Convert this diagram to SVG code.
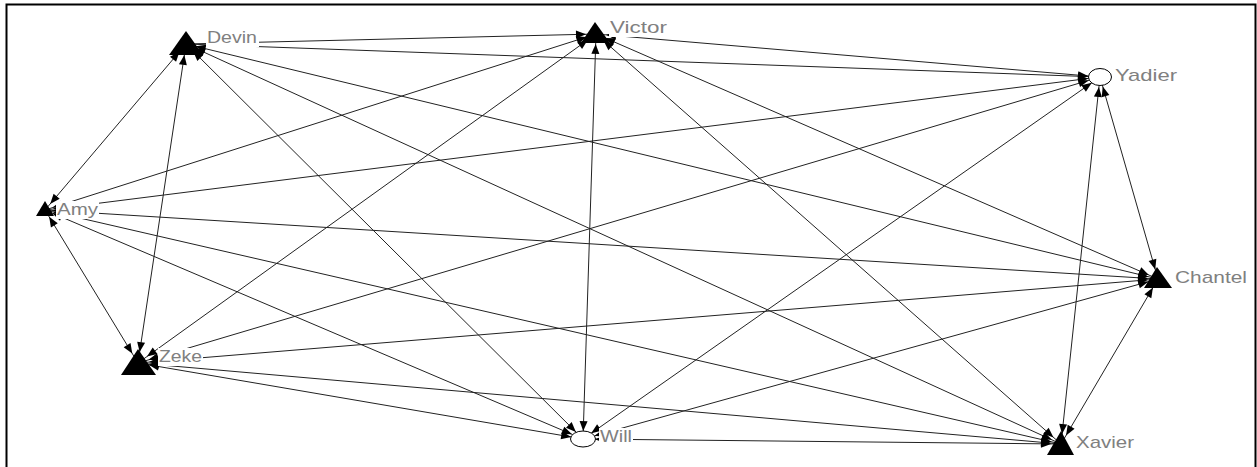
<svg xmlns="http://www.w3.org/2000/svg" width="1257" height="467" viewBox="0 0 1257 467">
  <style>
    .edge { stroke: #222; stroke-width: 1; fill: none; }
    .s8 { marker-start: url(#a8); }   .e8 { marker-end: url(#a8); }
    .s10 { marker-start: url(#a10); } .e10 { marker-end: url(#a10); }
    .s11 { marker-start: url(#a11); } .e11 { marker-end: url(#a11); }
    .s12 { marker-start: url(#a12); } .e12 { marker-end: url(#a12); }
    .tri { fill: #000; }
    .ell { fill: #fff; stroke: #000; stroke-width: 1; }
    .lb { fill: #fff; }
    .lbl { font-family: "Liberation Sans", Arial, sans-serif; font-size: 17px; fill: #808080; }
    .frame { fill: none; stroke: #000; stroke-width: 2; }
  </style>
  <defs>
    <!-- arrowheads; refX pulls the tip back from the node centre -->
    <marker id="a8" markerUnits="userSpaceOnUse" orient="auto-start-reverse" refX="8" refY="0" overflow="visible">
      <path d="M0,0 L-10,-4 L-10,4 Z" fill="#000"/>
    </marker>
    <marker id="a10" markerUnits="userSpaceOnUse" orient="auto-start-reverse" refX="10" refY="0" overflow="visible">
      <path d="M0,0 L-10,-4 L-10,4 Z" fill="#000"/>
    </marker>
    <marker id="a11" markerUnits="userSpaceOnUse" orient="auto-start-reverse" refX="11" refY="0" overflow="visible">
      <path d="M0,0 L-10,-4 L-10,4 Z" fill="#000"/>
    </marker>
    <marker id="a12" markerUnits="userSpaceOnUse" orient="auto-start-reverse" refX="12" refY="0" overflow="visible">
      <path d="M0,0 L-10,-4 L-10,4 Z" fill="#000"/>
    </marker>
  </defs>

  <rect width="1257" height="467" fill="#fff"/>
  <path class="frame" d="M6.5,467 V4.5 H1255.5 V467"/>

  <g id="connectors">
    <!-- Devin (186,44) -->
    <line class="edge e10" x1="186" y1="44" x2="596" y2="34"/>
    <line class="edge e12" x1="186" y1="44" x2="1100" y2="77"/>
    <line class="edge s10 e8" x1="186" y1="44" x2="45" y2="210"/>
    <line class="edge s11 e11" x1="186" y1="44" x2="138" y2="363"/>
    <line class="edge s10 e10" x1="186" y1="44" x2="583" y2="439"/>
    <line class="edge s10 e10" x1="186" y1="44" x2="1061" y2="444"/>
    <line class="edge s10 e10" x1="186" y1="44" x2="1158" y2="279"/>
    <!-- Victor (596,34) -->
    <line class="edge s10 e12" x1="596" y1="34" x2="1100" y2="77"/>
    <line class="edge s10 e8" x1="596" y1="34" x2="45" y2="210"/>
    <line class="edge s10 e11" x1="596" y1="34" x2="138" y2="363"/>
    <line class="edge s10 e8" x1="596" y1="34" x2="583" y2="439"/>
    <line class="edge s10 e10" x1="596" y1="34" x2="1061" y2="444"/>
    <line class="edge s10 e10" x1="596" y1="34" x2="1158" y2="279"/>
    <!-- Yadier (1100,77) -->
    <line class="edge s12 e8" x1="1100" y1="77" x2="45" y2="210"/>
    <line class="edge s12 e11" x1="1100" y1="77" x2="138" y2="363"/>
    <line class="edge s10 e10" x1="1100" y1="77" x2="583" y2="439"/>
    <line class="edge s10 e10" x1="1100" y1="77" x2="1061" y2="444"/>
    <line class="edge s10 e10" x1="1100" y1="77" x2="1158" y2="279"/>
    <!-- Amy (45,210) -->
    <line class="edge s8 e10" x1="45" y1="210" x2="1158" y2="279"/>
    <line class="edge s8 e11" x1="45" y1="210" x2="138" y2="363"/>
    <line class="edge s8 e12" x1="45" y1="210" x2="583" y2="439"/>
    <line class="edge s8 e10" x1="45" y1="210" x2="1061" y2="444"/>
    <!-- Zeke (138,363) -->
    <line class="edge s11 e10" x1="138" y1="363" x2="1158" y2="279"/>
    <line class="edge s11 e12" x1="138" y1="363" x2="583" y2="439"/>
    <line class="edge s11 e10" x1="138" y1="363" x2="1061" y2="444"/>
    <!-- Will (583,439) -->
    <line class="edge s12 e10" x1="583" y1="439" x2="1158" y2="279"/>
    <line class="edge s12 e10" x1="583" y1="439" x2="1061" y2="444"/>
    <!-- Xavier (1061,444) -->
    <line class="edge s10 e10" x1="1061" y1="444" x2="1158" y2="279"/>
  </g>

  <g id="node-devin">
    <polygon class="tri" points="186,31 169,55 203,55"/>
    <rect class="lb" x="206" y="29" width="53" height="18"/>
    <text class="lbl" x="207" y="43" textLength="50" lengthAdjust="spacingAndGlyphs">Devin</text>
  </g>
  <g id="node-victor">
    <polygon class="tri" points="595,22 581,43 610,43"/>
    <rect class="lb" x="609" y="19" width="59" height="18"/>
    <text class="lbl" x="610" y="33" textLength="57" lengthAdjust="spacingAndGlyphs">Victor</text>
  </g>
  <g id="node-yadier">
    <ellipse class="ell" cx="1100" cy="77" rx="11.5" ry="8.5"/>
    <rect class="lb" x="1114" y="67" width="64" height="18"/>
    <text class="lbl" x="1115" y="81" textLength="62" lengthAdjust="spacingAndGlyphs">Yadier</text>
  </g>
  <g id="node-amy">
    <polygon class="tri" points="45,201 36,216 54,216"/>
    <rect class="lb" x="56" y="201" width="43" height="18"/>
    <text class="lbl" x="57" y="215" textLength="41" lengthAdjust="spacingAndGlyphs">Amy</text>
  </g>
  <g id="node-zeke">
    <polygon class="tri" points="138,349 121,375 156,375"/>
    <rect class="lb" x="158" y="348" width="45" height="18"/>
    <text class="lbl" x="159" y="362" textLength="43" lengthAdjust="spacingAndGlyphs">Zeke</text>
  </g>
  <g id="node-will">
    <ellipse class="ell" cx="583" cy="439" rx="12.5" ry="8"/>
    <rect class="lb" x="599" y="428" width="34" height="18"/>
    <text class="lbl" x="600" y="442" textLength="32" lengthAdjust="spacingAndGlyphs">Will</text>
  </g>
  <g id="node-xavier">
    <polygon class="tri" points="1061,431 1047,455 1074,455"/>
    <rect class="lb" x="1075" y="434" width="60" height="18"/>
    <text class="lbl" x="1076" y="448" textLength="58" lengthAdjust="spacingAndGlyphs">Xavier</text>
  </g>
  <g id="node-chantel">
    <polygon class="tri" points="1157,267 1144,288 1172,288"/>
    <rect class="lb" x="1174" y="269" width="74" height="18"/>
    <text class="lbl" x="1175" y="283" textLength="72" lengthAdjust="spacingAndGlyphs">Chantel</text>
  </g>
</svg>
